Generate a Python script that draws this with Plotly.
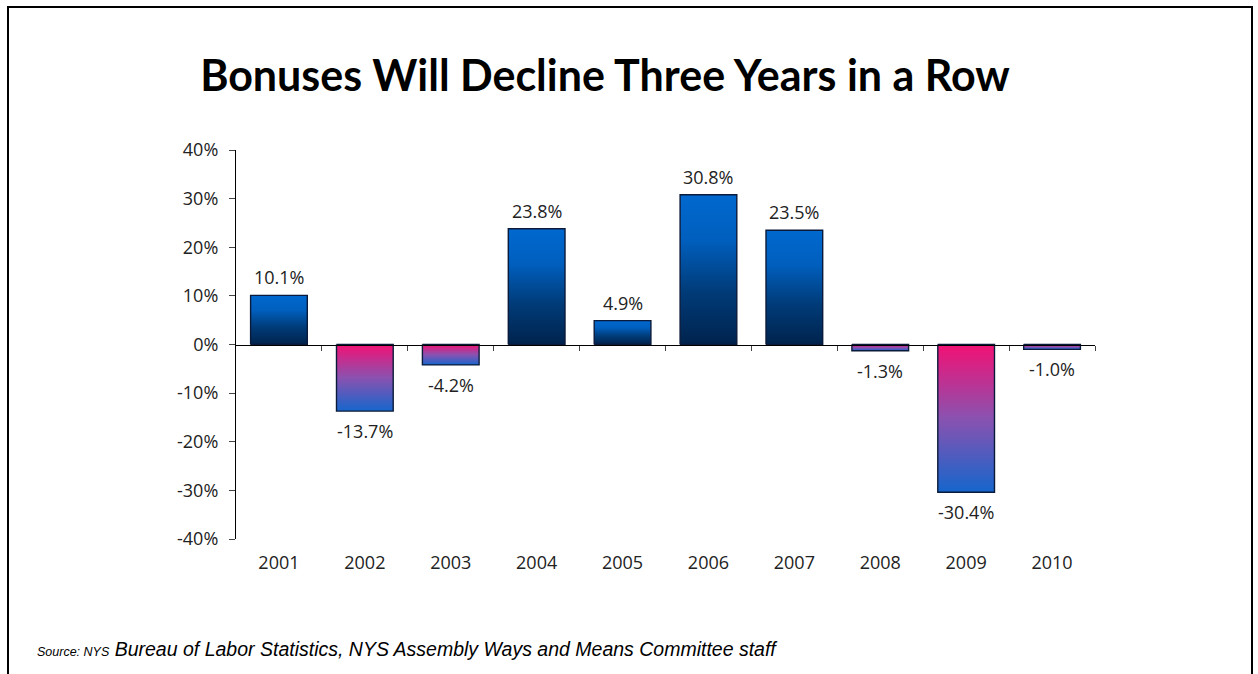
import plotly.graph_objects as go

years = ["2001", "2002", "2003", "2004", "2005", "2006", "2007", "2008", "2009", "2010"]
growth = [10.1, -13.7, -4.2, 23.8, 4.9, 30.8, 23.5, -1.3, -30.4, -1.0]
y_ticks = [-40, -30, -20, -10, 0, 10, 20, 30, 40]
y_tick_labels = [f"{t}%" for t in y_ticks]

title_text = "Bonuses Will Decline Three Years in a Row"

W, H = 1258, 674
L, R, T, B = 236, 163, 150, 135
plot_w = W - L - R
plot_h = H - T - B

bar_width = 0.66
pos_scale = [[0, "#00234D"], [0.35, "#003B78"], [0.7, "#005FBE"], [1, "#0068CF"]]
neg_scale = [[0, "#1566CC"], [0.5, "#8A52B0"], [1, "#F21174"]]
label_font = dict(family="'Open Sans', Lato, sans-serif", size=18, color="#222222")

fig = go.Figure()

# each bar is a filled rectangle so it can carry its own vertical gradient
for i, (yr, v) in enumerate(zip(years, growth)):
    x0, x1 = i - bar_width / 2, i + bar_width / 2
    fig.add_trace(go.Scatter(
        x=[x0, x0, x1, x1, x0],
        y=[0, v, v, 0, 0],
        mode="lines",
        fill="toself",
        fillgradient=dict(type="vertical", colorscale=pos_scale if v >= 0 else neg_scale),
        line=dict(color="#0A1A3A", width=1.4),
        hoverinfo="skip",
        showlegend=False,
    ))
    fig.add_annotation(
        x=i, y=v, xref="x", yref="y",
        text=f"{v:.1f}%",
        showarrow=False,
        yanchor="bottom" if v >= 0 else "top",
        yshift=4 if v >= 0 else -6,
        font=label_font,
    )

# baseline axis at 0% with category separator ticks
fig.add_trace(go.Scatter(x=[-0.5, 9.5], y=[0, 0], xaxis="x2", mode="lines",
                         line=dict(width=0), hoverinfo="skip", showlegend=False))


def px_x(p):
    return (p - L) / plot_w


def px_y(p):
    return (H - B - p) / plot_h


fig.update_layout(
    width=W, height=H,
    margin=dict(l=L, r=R, t=T, b=B),
    paper_bgcolor="white",
    plot_bgcolor="white",
    title=dict(
        text=f"<b>{title_text}</b>",
        x=605 / W, xref="container", xanchor="center",
        y=1 - 76 / H, yref="container", yanchor="middle",
        font=dict(family="Lato, 'Open Sans', sans-serif", size=43, color="#000000"),
    ),
    xaxis=dict(
        range=[-0.5, 9.5],
        tickvals=list(range(len(years))),
        ticktext=years,
        showline=False, showgrid=False, zeroline=False,
        ticks="", ticklabelstandoff=11,
        tickfont=label_font,
    ),
    xaxis2=dict(
        overlaying="x", anchor="free", position=0.5,
        range=[-0.5, 9.5],
        tickvals=[i + 0.5 for i in range(len(years))],
        showticklabels=False,
        showline=True, linecolor="#000000", linewidth=1.2,
        ticks="outside", ticklen=5, tickwidth=1, tickcolor="#444444",
        showgrid=False, zeroline=False,
    ),
    yaxis=dict(
        range=[-40, 40],
        tickvals=y_ticks, ticktext=y_tick_labels,
        showline=True, linecolor="#000000", linewidth=1.2,
        ticks="outside", ticklen=6, tickcolor="#444444",
        showgrid=False, zeroline=False,
        tickfont=label_font,
        ticklabelstandoff=7,
    ),
    shapes=[
        dict(type="rect", xref="paper", yref="paper",
             x0=px_x(8), x1=px_x(1252), y0=px_y(690), y1=px_y(7),
             line=dict(color="#000000", width=2), fillcolor="rgba(0,0,0,0)",
             layer="below"),
    ],
    annotations=list(fig.layout.annotations) + [
        dict(
            xref="paper", yref="paper", x=px_x(35), y=px_y(649),
            xanchor="left", yanchor="middle", showarrow=False,
            text="<i><span style='font-size:12.5px'>Source: NYS</span> Bureau of Labor Statistics, NYS Assembly Ways and Means Committee staff</i>",
            font=dict(family="'Liberation Sans', Arial, sans-serif", size=19.5, color="#000000"),
        )
    ],
)

fig.write_html("out.html")
